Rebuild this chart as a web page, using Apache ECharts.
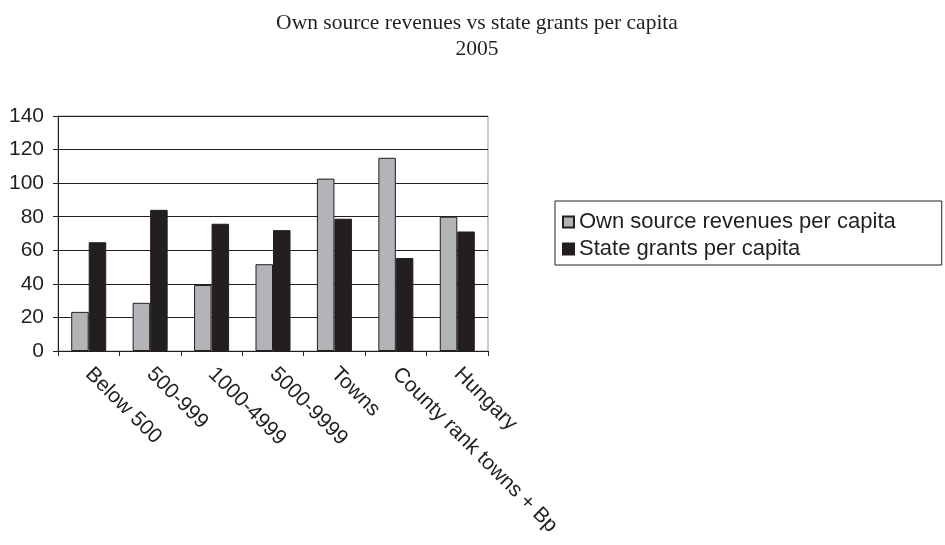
<!DOCTYPE html>
<html><head><meta charset="utf-8">
<script src="https://cdn.jsdelivr.net/npm/echarts@6/dist/echarts.min.js"></script>
<style>html,body{margin:0;padding:0;background:#fff}#c{width:945px;height:545px}</style>
</head><body><div id="c"></div>
<script>
var categories = ['Below 500','500-999','1000-4999','5000-9999','Towns','County rank towns + Bp','Hungary'];
var ownSource = [23.3, 28.7, 39.3, 51.7, 102.7, 115.1, 80.0];
var stateGrants = [64.8, 84.1, 75.8, 72.0, 78.8, 55.4, 71.2];
var seriesNames = ['Own source revenues per capita','State grants per capita'];
var titleText = 'Own source revenues vs state grants per capita\n2005';

var chart = echarts.init(document.getElementById('c'), null, {renderer:'canvas'});
chart.setOption({
  backgroundColor:'#fff',
  animation:false,
  title:{text:titleText,left:472,textAlign:'center',top:5,
    textStyle:{fontFamily:'Liberation Serif',fontWeight:'normal',fontSize:21.5,color:'#231f20',lineHeight:26}},
  legend:{orient:'vertical',left:555,top:201,padding:[10,46,5,7],itemGap:5,
    borderColor:'#231f20',borderWidth:1,itemWidth:11,itemHeight:11,
    icon:'rect',
    textStyle:{fontFamily:'Liberation Sans',fontSize:22,color:'#231f20'},
    data:seriesNames},
  grid:{left:58,right:457,top:116,bottom:194,show:true,borderColor:'#999',borderWidth:1},
  xAxis:{type:'category',data:categories,
    axisLine:{lineStyle:{color:'#231f20',width:1}},
    axisTick:{show:true,length:5,lineStyle:{color:'#231f20'}},
    axisLabel:{rotate:-45,fontFamily:'Liberation Sans',fontSize:21,color:'#231f20',margin:20,interval:0}},
  yAxis:{type:'value',min:0,max:140,interval:20,
    axisLine:{show:true,lineStyle:{color:'#231f20'}},
    axisTick:{show:true,length:5,lineStyle:{color:'#231f20'}},
    splitLine:{lineStyle:{color:'#231f20',width:1}},
    axisLabel:{fontFamily:'Liberation Sans',fontSize:21,color:'#231f20',margin:14}},
  series:[
    {name:seriesNames[0],type:'bar',data:ownSource,barGap:'0%',barCategoryGap:'43%',
      itemStyle:{color:'#b3b4b8',borderColor:'#231f20',borderWidth:1}},
    {name:seriesNames[1],type:'bar',data:stateGrants,
      itemStyle:{color:'#231f20',borderColor:'#231f20',borderWidth:1}}
  ]
});
</script></body></html>
